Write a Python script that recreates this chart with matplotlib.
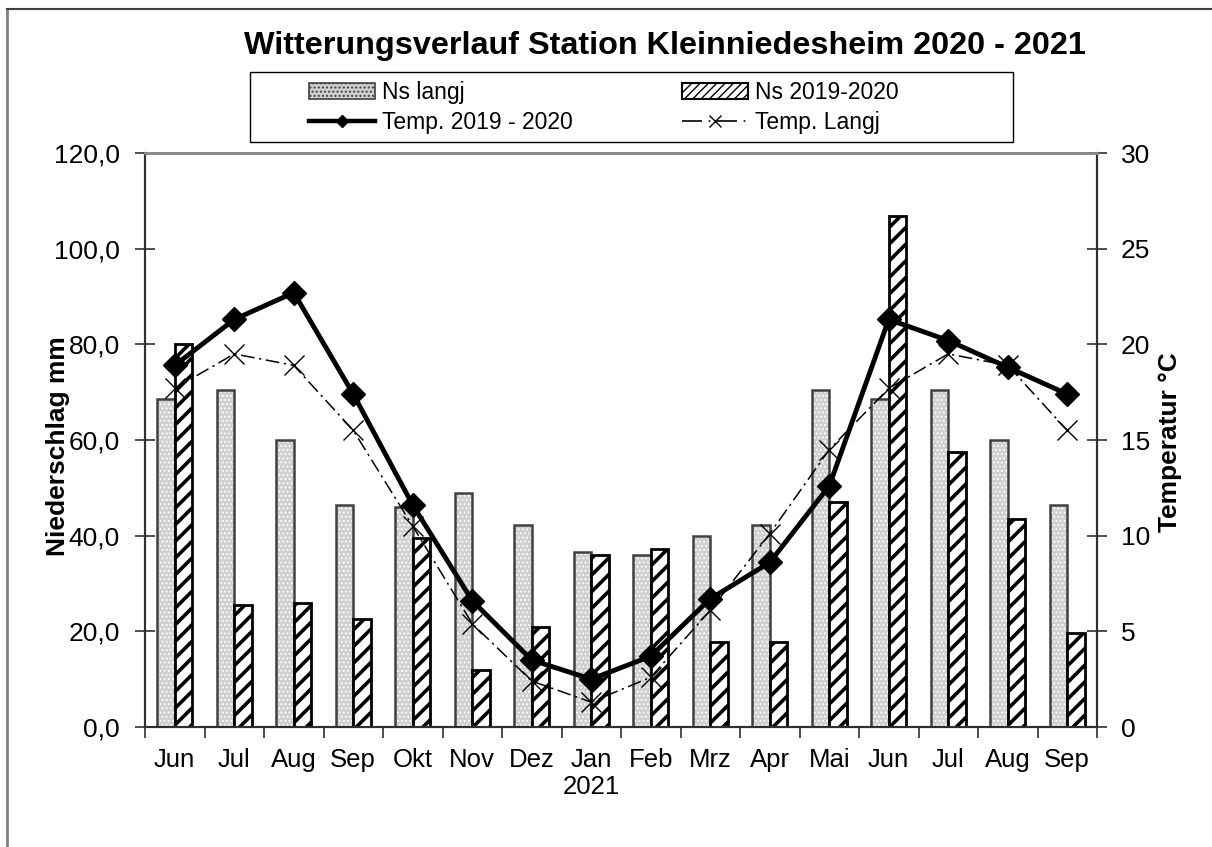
import numpy as np
import matplotlib
matplotlib.use("Agg")
import matplotlib.pyplot as plt
from matplotlib.lines import Line2D
from matplotlib.patches import Patch, Rectangle

plt.rcParams["font.family"] = ["Liberation Sans", "DejaVu Sans"]

months = ["Jun", "Jul", "Aug", "Sep", "Okt", "Nov", "Dez", "Jan",
          "Feb", "Mrz", "Apr", "Mai", "Jun", "Jul", "Aug", "Sep"]
ns_langj = [68.5, 70.5, 60.0, 46.5, 46.0, 49.0, 42.2, 36.5,
            36.0, 40.0, 42.2, 70.5, 68.5, 70.5, 60.0, 46.5]
ns_2020 = [80.0, 25.5, 26.0, 22.5, 39.5, 12.0, 21.0, 36.0,
           37.2, 17.8, 17.8, 47.0, 106.8, 57.5, 43.5, 19.7]
temp_2020 = [18.9, 21.3, 22.7, 17.4, 11.6, 6.6, 3.5, 2.5,
             3.7, 6.7, 8.6, 12.6, 21.3, 20.2, 18.8, 17.4]
temp_langj = [17.7, 19.5, 18.9, 15.5, 10.5, 5.4, 2.4, 1.3,
              2.6, 6.1, 10.1, 14.5, 17.7, 19.5, 18.9, 15.5]

W, H = 1212, 847
x = np.arange(len(months))
w = 0.29
DASH = (9, 3, 1.5, 3)

fig = plt.figure(figsize=(W / 100, H / 100), dpi=100)
ax = fig.add_axes([145 / W, 1 - 727 / H, 952 / W, 574 / H])
ax2 = ax.twinx()

# grey dotted bars (long-term precipitation)
grey = ax.bar(x - w / 2, ns_langj, w, color="#d0d0d0", edgecolor="white",
              hatch="....", linewidth=0, zorder=2)
ax.bar(x - w / 2, ns_langj, w, facecolor="none", edgecolor="#404040",
       linewidth=1.8, zorder=3)
# hatched bars (2019-2020)
hat = ax.bar(x + w / 2, ns_2020, w, color="white", edgecolor="black",
             hatch="//", linewidth=2.0, zorder=3)
for b in hat:
    if hasattr(b, "set_hatch_linewidth"):
        b.set_hatch_linewidth(2.6)
for b in grey:
    if hasattr(b, "set_hatch_linewidth"):
        b.set_hatch_linewidth(0.8)

ax2.plot(x, temp_2020, color="black", lw=3.5, marker="D", markersize=12, zorder=5)
ax2.plot(x, temp_langj, color="black", lw=1.1, dashes=DASH,
         marker="x", markersize=14, markeredgewidth=1.0, zorder=4)

ax.set_xlim(-0.5, len(months) - 0.5)
ax.set_ylim(0, 120)
ax2.set_ylim(0, 30)

ax.set_yticks(np.arange(0, 121, 20))
ax.set_yticklabels([f"{v:.1f}".replace(".", ",") for v in np.arange(0, 121, 20)])
ax2.set_yticks(np.arange(0, 31, 5))

ax.set_xticks(x)
labels = [m if i != 7 else m + "\n2021" for i, m in enumerate(months)]
ax.set_xticklabels(labels, fontsize=18.5, linespacing=1.15)
ax.set_xticks(np.arange(-0.5, len(months), 1), minor=True)
ax.tick_params(axis="x", which="major", length=0, pad=15)
ax.tick_params(axis="x", which="minor", length=8, width=1.2, direction="out", color="#303030")
ax.tick_params(axis="y", labelsize=19, length=14, width=1.2, direction="inout", pad=11, color="#303030")
ax2.tick_params(axis="y", labelsize=19, length=14, width=1.2, direction="inout", pad=10, color="#303030")

for a in (ax, ax2):
    for s in ("left", "right", "bottom"):
        a.spines[s].set_color("#303030")
        a.spines[s].set_linewidth(1.5)
    a.spines["top"].set_color("#8c8c8c")
    a.spines["top"].set_linewidth(2.0)

ax.set_ylabel("Niederschlag mm", fontsize=19, fontweight="bold")
ax.yaxis.set_label_coords(-0.079, 0.49)
ax2.set_ylabel("Temperatur °C", fontsize=19, fontweight="bold")
ax2.yaxis.set_label_coords(1.064, 0.497)

fig.text(665 / W, 1 - 46 / H, "Witterungsverlauf Station Kleinniedesheim 2020 - 2021",
         ha="center", va="center", fontsize=23.3, fontweight="bold")

# legend: frame drawn by hand, two column legends inside
fig.add_artist(Rectangle((250 / W, 1 - 142 / H), 763 / W, 70 / H, transform=fig.transFigure,
                         facecolor="white", edgecolor="black", linewidth=1.0))
h_grey = Patch(facecolor="#d0d0d0", edgecolor="#404040", hatch="....", linewidth=1.2)
h_hat = Patch(facecolor="white", edgecolor="black", hatch="////", linewidth=1.5)
h_t20 = Line2D([], [], color="black", lw=3.2, marker="D", markersize=6)
h_tl = Line2D([], [], color="black", lw=1.2, dashes=(12, 4, 1, 4), marker="x", markersize=8)
leg_kw = dict(loc="upper left", frameon=False, fontsize=16.5, handlelength=2.9,
              handletextpad=0.3, borderpad=0, borderaxespad=0, labelspacing=0.3)
fig.legend([h_grey, h_t20], ["Ns langj", "Temp. 2019 - 2020"],
           bbox_to_anchor=(309 / W, 1 - 81 / H), **leg_kw)
fig.legend([h_hat, h_tl], ["Ns 2019-2020", "Temp. Langj"],
           bbox_to_anchor=(682 / W, 1 - 81 / H), **leg_kw)

# outer chart border
fig.add_artist(Line2D([7 / W, 7 / W], [0, 1 - 9 / H], color="#808080", lw=2.0))
fig.add_artist(Line2D([7 / W, 1], [1 - 9 / H, 1 - 9 / H], color="#404040", lw=1.5))

fig.savefig("out.png", dpi=100)
